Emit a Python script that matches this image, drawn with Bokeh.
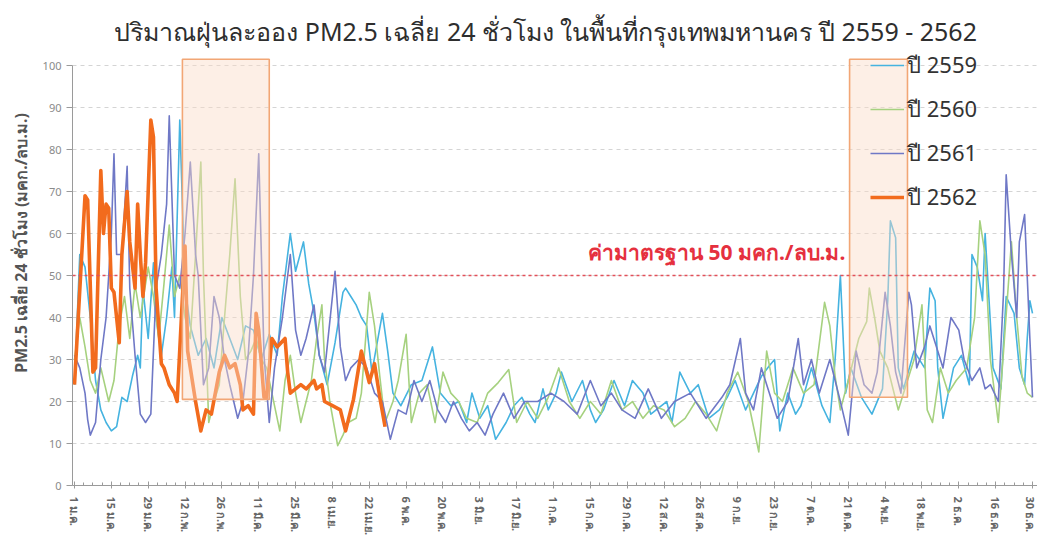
from bokeh.plotting import figure
from bokeh.models import (ColumnDataSource, FixedTicker, Legend, LegendItem, Label, Span)
from bokeh.embed import file_html
from bokeh.resources import INLINE

title_text = "ปริมาณฝุ่นละออง PM2.5 เฉลี่ย 24 ชั่วโมง ในพื้นที่กรุงเทพมหานคร ปี 2559 - 2562"
y_label = "PM2.5 เฉลี่ย 24 ชั่วโมง (มคก./ลบ.ม.)"
std_text = "ค่ามาตรฐาน 50 มคก./ลบ.ม."

tick_days = [1, 15, 29, 43, 57, 71, 85, 99, 113, 127, 141, 155, 169, 183, 197,
             211, 225, 239, 253, 267, 281, 295, 309, 323, 337, 351, 365]
tick_labels = ["1 ม.ค.", "15 ม.ค.", "29 ม.ค.", "12 ก.พ.", "26 ก.พ.", "11 มี.ค.", "25 มี.ค.",
               "8 เม.ย.", "22 เม.ย.", "6 พ.ค.", "20 พ.ค.", "3 มิ.ย.", "17 มิ.ย.", "1 ก.ค.",
               "15 ก.ค.", "29 ก.ค.", "12 ส.ค.", "26 ส.ค.", "9 ก.ย.", "23 ก.ย.", "7 ต.ค.",
               "21 ต.ค.", "4 พ.ย.", "18 พ.ย.", "2 ธ.ค.", "16 ธ.ค.", "30 ธ.ค."]

series_names = ["ปี 2559", "ปี 2560", "ปี 2561", "ปี 2562"]
series_colors = ["#45b3e0", "#a6d17f", "#6f78c6", "#f26b1d"]
series_widths = [1.6, 1.6, 1.6, 3.6]

days_2559 = [1, 3, 5, 7, 9, 11, 13, 15, 17, 19, 21, 23, 25, 26, 27, 29, 31, 32, 34, 36, 38, 39,
             41, 43, 45, 48, 51, 54, 57, 60, 63, 66, 69, 72, 75, 78, 80, 83, 85, 88, 90, 92, 94,
             97, 100, 103, 104, 106, 108, 110, 112, 114, 118, 120, 122, 125, 129, 133, 137, 140,
             144, 147, 150, 152, 155, 158, 161, 165, 168, 171, 174, 176, 179, 181, 184, 186, 190,
             194, 197, 199, 202, 206, 210, 213, 217, 220, 222, 226, 228, 231, 235, 238, 242, 246,
             249, 252, 256, 259, 262, 265, 267, 269, 272, 275, 277, 281, 285, 288, 290, 292, 294,
             296, 300, 304, 308, 310, 311, 313, 314, 316, 320, 324, 326, 328, 329, 331, 335, 338,
             341, 342, 344, 346, 347, 350, 353, 355, 358, 360, 362, 363, 364, 365]
pm_2559 = [24, 55, 52, 40, 25, 18, 15, 13, 14, 21, 20, 26, 31, 28, 47, 35, 53, 40, 31, 40, 52, 40,
           87, 47, 38, 31, 35, 28, 40, 35, 30, 38, 37, 30, 36, 31, 45, 60, 51, 58, 48, 41, 31,
           24, 34, 46, 47, 45, 43, 40, 38, 27, 41, 32, 22, 19, 24, 25, 33, 22,
           19, 20, 15, 22, 16, 19, 11, 15, 19, 21, 17, 15, 23, 18, 22, 27, 20,
           25, 18, 15, 18, 25, 19, 25, 22, 17, 18, 20, 15, 27, 22, 24, 16, 18,
           21, 25, 18, 22, 26, 28.5, 30, 13, 22, 17, 19, 28, 19, 15, 30, 50, 22,
           28, 21, 17, 23, 44, 63, 59, 28, 23, 32, 28, 47, 44, 28, 16, 28, 31,
           24, 55, 52, 44, 60, 28, 23, 45, 41, 28, 24, 35, 44, 41]

days_2560 = [1, 3, 5, 7, 9, 11, 14, 16, 18, 20, 22, 24, 26, 29, 31, 33, 35, 37, 39, 41, 43, 45,
             47, 49, 50, 52, 54, 56, 58, 60, 62, 64, 66, 68, 70, 72, 74, 76, 79, 81, 83, 85, 87,
             89, 91, 93, 95, 96, 98, 101, 103, 105, 108, 110, 113, 115, 117, 119, 122, 124, 127,
             129, 132, 135, 138, 141, 144, 147, 150, 154, 158, 162, 166, 169, 173, 177, 181, 185,
             189, 193, 197, 201, 205, 209, 213, 217, 221, 225, 229, 233, 237, 241, 245, 249, 253,
             257, 261, 264, 267, 270, 274, 278, 282, 286, 288, 290, 292, 295, 299, 302, 303, 305,
             307, 310, 314, 317, 320, 323, 325, 327, 330, 333, 336, 340, 343, 345, 347, 349, 352,
             354, 357, 359, 361, 363, 365]
pm_2560 = [30, 40, 33, 25, 22, 28, 20, 25, 38, 45, 35, 48, 40, 52, 45, 35, 48, 62, 45, 50, 40, 35,
           55, 77, 50, 15, 20, 24, 40, 55, 73, 45, 30, 32, 35, 30, 28, 22, 13, 25, 31, 22, 15,
           20, 25, 35, 43, 30, 20, 9.5, 12, 15, 16, 22, 46, 38, 26, 15, 20, 25, 36,
           15, 22, 24, 15, 27, 22, 20, 16, 15, 22, 24.5, 27.6, 15, 20, 16, 21, 28,
           20, 16, 20, 17, 25, 18, 20, 16, 19, 18, 14, 16, 20, 17, 13, 22, 27,
           20, 8, 32, 22, 20, 28, 22, 24, 43.6, 38, 26, 18, 25, 35, 39, 47, 40,
           32, 28, 18, 24, 30, 43, 18, 15, 28, 22, 25, 28, 40, 63, 55, 30, 15,
           32, 58, 40, 26, 22, 21]

days_2561 = [1, 3, 5, 6, 7, 9, 11, 13, 15, 16, 17, 19, 21, 22, 24, 26, 28, 30, 32, 34, 36, 37,
             39, 41, 43, 45, 47, 48, 50, 52, 54, 56, 58, 60, 63, 65, 67, 69, 71, 73, 75, 77, 80,
             83, 85, 87, 89, 92, 94, 96, 100, 102, 104, 106, 109, 112, 115, 118, 121, 124, 127,
             130, 133, 136, 139, 142, 145, 148, 151, 154, 157, 160, 164, 168, 172, 177, 182, 187,
             192, 197, 201, 205, 209, 214, 219, 224, 229, 235, 241, 247, 250, 254, 256, 259, 262,
             265, 268, 272, 276, 278, 281, 284, 288, 292, 295, 298, 301, 304, 306, 309, 311, 313,
             315, 318, 319, 321, 324, 326, 329, 331, 334, 337, 339, 342, 345, 347, 349, 352, 354,
             355, 357, 359, 360, 362, 364, 365]
pm_2561 = [31, 28, 22, 15.7, 12, 15, 30, 40, 60, 79, 55, 55, 76, 47, 31, 17, 15, 17, 47, 55, 67, 88,
           50, 47, 60, 77, 55, 50, 24, 28, 45, 40, 30, 24, 16, 20, 31, 50, 79, 31, 15, 28, 40,
           55, 37, 31, 35, 43, 31, 27, 51, 33, 25, 28, 30, 28, 22, 20, 11, 18, 17,
           25, 20, 25, 18, 15, 20, 16, 13, 15, 12, 17, 22, 16, 20, 20, 22, 20,
           17, 25, 19, 22, 18, 16, 23, 16, 20, 22, 16, 21, 24, 35, 22, 18, 28,
           22, 16, 20, 35, 24, 30, 22, 30, 20, 12, 32, 24, 22, 27, 46, 38, 27,
           22, 46, 43, 28, 33, 38, 32, 28, 40, 37, 30, 25, 28, 23, 24, 20, 46,
           74, 55, 40, 58, 64.5, 35, 21]

days_2562 = [1, 5, 6, 8, 9, 11, 12, 13, 14, 15, 16, 18, 19, 21, 22, 24, 25, 26, 27, 28, 30, 31,
             32, 34, 35, 37, 39, 40, 43, 44, 47, 49, 51, 53, 56, 58, 60, 62, 64, 65, 67, 69, 70,
             71, 73, 74, 76, 78, 81, 82, 83, 87, 89, 92, 93, 95, 96, 99, 102, 104, 107, 110, 113,
             115, 117, 119]
pm_2562 = [24, 69, 68, 27, 28, 75, 60, 67, 66, 47, 46, 34, 55, 70, 58, 47, 67, 55, 45, 53, 87, 83,
           47, 29, 28, 24, 22, 20, 57, 32, 20, 13, 18, 17, 27, 31, 28, 29, 24, 18, 19, 17, 41,
           37, 21, 21, 35, 33, 35, 27, 22, 24, 23, 25, 23, 24, 20, 19, 18, 13, 20.5, 32, 24.5,
           29, 21, 14]

box_left = [42, 295.5]
box_right = [75, 317.5]
box_bottom = [20.5, 21]
box_top = [101.5, 101.5]
standard_value = 50

FONT = "Noto Sans"

# frame spans the full figure height so the title and legend sit inside it
p = figure(width=1037, height=539, output_backend="svg", toolbar_location=None,
           x_range=(0.24, 366.9), y_range=(0, 115.48),
           min_border_left=72, min_border_right=0, min_border_top=0, min_border_bottom=54)
p.outline_line_color = None
p.background_fill_color = "white"

p.xgrid.grid_line_color = None
p.ygrid.grid_line_color = "#d4d4d4"
p.ygrid.grid_line_dash = "4 4"
p.ygrid.grid_line_width = 1
p.yaxis.ticker = FixedTicker(ticks=list(range(0, 101, 10)))
p.yaxis.bounds = (0, 100)

all_days = [days_2559, days_2560, days_2561, days_2562]
all_pm = [pm_2559, pm_2560, pm_2561, pm_2562]
renderers = []
for d, v, c, w in zip(all_days, all_pm, series_colors, series_widths):
    src = ColumnDataSource(dict(x=d, y=v))
    r = p.line("x", "y", source=src, line_color=c, line_width=w, line_join="round")
    renderers.append(r)

p.quad(left=box_left, right=box_right, bottom=box_bottom, top=box_top,
       fill_color="#fbdcc8", fill_alpha=0.45, line_color="#f2a675", line_width=1.6)

p.add_layout(Span(location=standard_value, dimension="width", line_color="#e2505a",
                  line_dash="3 3", line_width=1.4))
p.add_layout(Label(x=293.9, y=55.5, text=std_text, text_color="#e5303e", text_font=FONT,
                   text_font_size="21px", text_font_style="bold", text_baseline="middle",
                   text_align="right"))

p.add_layout(Label(x=180, y=108.3, text=title_text,
                   text_font=FONT, text_font_size="25px", text_color="#2e2e2e",
                   text_align="center", text_baseline="middle"))

p.yaxis.axis_label = y_label
p.yaxis.axis_label_text_font = FONT
p.yaxis.axis_label_text_font_size = "16px"
p.yaxis.axis_label_text_font_style = "bold"
p.yaxis.axis_label_text_color = "#555555"
p.yaxis.axis_label_standoff = 8
p.yaxis.major_label_text_font = FONT
p.yaxis.major_label_text_font_size = "11px"
p.yaxis.major_label_text_color = "#8a8a8a"
p.yaxis.axis_line_color = "#9a9a9a"
p.yaxis.major_tick_line_color = "#9a9a9a"
p.yaxis.major_tick_in = 0
p.yaxis.major_tick_out = 6
p.yaxis.minor_tick_line_color = None

p.xaxis.ticker = FixedTicker(ticks=tick_days,
                             minor_ticks=[1 + 3.5 * i for i in range(105)])
p.xaxis.major_label_overrides = {d: l for d, l in zip(tick_days, tick_labels)}
p.xaxis.major_label_orientation = "vertical"
p.xaxis.major_label_text_font = FONT
p.xaxis.major_label_text_font_size = "11px"
p.xaxis.major_label_text_font_style = "bold"
p.xaxis.major_label_text_color = "#666666"
p.xaxis.major_label_standoff = 8
p.xaxis.axis_line_color = "#9a9a9a"
p.xaxis.major_tick_line_color = "#9a9a9a"
p.xaxis.minor_tick_line_color = "#9a9a9a"
p.xaxis.major_tick_in = 4
p.xaxis.major_tick_out = 3
p.xaxis.minor_tick_in = 3
p.xaxis.minor_tick_out = 0

legend = Legend(items=[LegendItem(label=n, renderers=[r]) for n, r in zip(series_names, renderers)],
                location=(798, 270), label_text_font=FONT, label_text_font_size="22px",
                label_text_color="#333333", glyph_width=34, glyph_height=36, label_height=36,
                spacing=8, padding=0, margin=0, label_standoff=3,
                background_fill_alpha=0, border_line_alpha=0)
p.add_layout(legend)

open("out.html", "w").write(file_html(p, INLINE))
